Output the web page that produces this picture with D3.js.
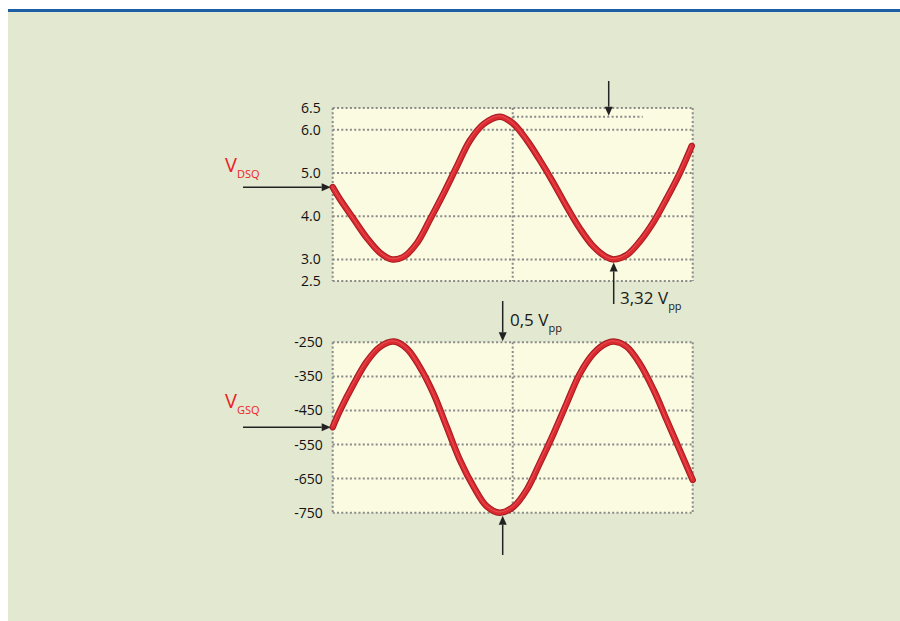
<!DOCTYPE html>
<html>
<head>
<meta charset="utf-8">
<script src="https://cdn.jsdelivr.net/npm/d3@7"></script>
<style>
  body { margin: 0; background: #fff; }
  svg { display: block; }
  .tick text { font-family: "Open Sans", sans-serif; font-size: 14px; fill: #111; }
  .grid { stroke: #8a8a8a; stroke-width: 2; stroke-dasharray: 2,2.3; fill: none; }
  .note { font-family: "Open Sans", sans-serif; fill: #1a1a1a; }
</style>
</head>
<body>
<svg id="chart" width="900" height="621"></svg>
<script>
// upper trace: drain-source voltage (V)
var topTime = [0, 0.7, 2.1, 3.4, 4.7, 5.9, 7.1, 8.4, 9.7, 11.1, 12.4, 13.7, 15.1, 16.7, 18.0, 19.4, 20.7, 22.1, 23.4, 24.7, 26.1, 27.4, 28.1, 29.4, 30.7, 32.1, 33.4, 34.7, 35.9];
var topVolts = [4.67, 4.40, 3.93, 3.50, 3.16, 3.00, 3.06, 3.37, 3.91, 4.53, 5.14, 5.74, 6.13, 6.30, 6.15, 5.76, 5.30, 4.76, 4.22, 3.72, 3.29, 3.05, 3.00, 3.10, 3.41, 3.87, 4.41, 4.99, 5.62];
var topTicks = [2.5, 3.0, 4.0, 5.0, 6.0, 6.5];

// lower trace: gate-source voltage (mV)
var botTime = [0, 0.7, 2.1, 3.4, 4.7, 6.1, 7.4, 8.7, 10.1, 11.4, 12.7, 14.1, 15.4, 16.7, 18.1, 19.4, 20.7, 22.1, 23.4, 24.7, 26.1, 27.4, 28.2, 29.4, 30.7, 32.1, 33.4, 34.7, 36];
var botVolts = [-499, -452, -372, -307, -264, -248, -268, -322, -402, -498, -594, -674, -731, -750, -732, -683, -605, -517, -429, -343, -282, -253, -248, -263, -312, -390, -478, -566, -654];
var botTicks = [-750, -650, -550, -450, -350, -250];

var timeGrid = [0, 18, 36];

var svg = d3.select("#chart");

// page background
svg.append("rect").attr("x", 8).attr("y", 11).attr("width", 892).attr("height", 610).attr("fill", "#e3e8d0");
svg.append("rect").attr("x", 8).attr("y", 9).attr("width", 892).attr("height", 3).attr("fill", "#1d5fa4");

var x = d3.scaleLinear().domain([0, 36]).range([332.7, 692.7]);
var yTop = d3.scaleLinear().domain([2.5, 6.5]).range([281, 108]);
var yBot = d3.scaleLinear().domain([-750, -250]).range([512.7, 342.3]);

function drawPanel(y, ticks, fmt, pad, times, volts)
{
    var g = svg.append("g");
    g.append("rect")
        .attr("x", x(0)).attr("y", y.range()[1])
        .attr("width", x(36) - x(0)).attr("height", y.range()[0] - y.range()[1])
        .attr("fill", "#fbfbe1");

    g.selectAll("line.h").data(ticks).enter().append("line")
        .attr("class", "grid")
        .attr("x1", x(0)).attr("x2", x(36))
        .attr("y1", function(d){ return y(d); }).attr("y2", function(d){ return y(d); });

    g.selectAll("line.v").data(timeGrid).enter().append("line")
        .attr("class", "grid")
        .attr("x1", function(d){ return x(d); }).attr("x2", function(d){ return x(d); })
        .attr("y1", y.range()[1]).attr("y2", y.range()[0]);

    var axis = g.append("g")
        .attr("transform", "translate(" + x(0) + ",0)")
        .call(d3.axisLeft(y).tickValues(ticks).tickSize(0).tickPadding(pad).tickFormat(fmt));
    axis.select(".domain").remove();

    var pts = times.map(function(t, i){ return [t, volts[i]]; });
    var line = d3.line()
        .x(function(d){ return x(d[0]); })
        .y(function(d){ return y(d[1]); })
        .curve(d3.curveCatmullRom.alpha(0.5));

    g.append("path").datum(pts).attr("d", line)
        .attr("fill", "none").attr("stroke", "#a31c22").attr("stroke-width", 6.5).attr("stroke-linecap", "round");
    g.append("path").datum(pts).attr("d", line)
        .attr("fill", "none").attr("stroke", "#dc2a30").attr("stroke-width", 4.5).attr("stroke-linecap", "round");
    g.append("path").datum(pts).attr("d", line)
        .attr("fill", "none").attr("stroke", "#f07a7a").attr("stroke-width", 1).attr("opacity", 0.5)
        .attr("transform", "translate(-0.6,-0.8)");
    return g;
}

drawPanel(yTop, topTicks, d3.format(".1f"), 12, topTime, topVolts);
drawPanel(yBot, botTicks, function(d){ return String(d); }, 10, botTime, botVolts);

// peak level marker in the upper panel
svg.append("line").attr("class", "grid")
    .attr("x1", x(18)).attr("x2", x(31))
    .attr("y1", yTop(d3.max(topVolts))).attr("y2", yTop(d3.max(topVolts)));

// arrows
function arrow(x1, y1, x2, y2)
{
    var a = Math.atan2(y2 - y1, x2 - x1), L = 9, W = 4;
    var bx = x2 - L * Math.cos(a), by = y2 - L * Math.sin(a);
    svg.append("line").attr("x1", x1).attr("y1", y1).attr("x2", bx).attr("y2", by)
        .attr("stroke", "#222").attr("stroke-width", 1.5);
    svg.append("path")
        .attr("d", "M" + x2 + "," + y2 +
                   "L" + (bx + W * Math.sin(a)) + "," + (by - W * Math.cos(a)) +
                   "L" + (bx - W * Math.sin(a)) + "," + (by + W * Math.cos(a)) + "Z")
        .attr("fill", "#222");
}

arrow(243, yTop(topVolts[0]), x(0) - 2, yTop(topVolts[0]));
arrow(243, yBot(botVolts[0]), x(0) - 2, yBot(botVolts[0]));
arrow(x(27.6), 81, x(27.6), yTop(d3.max(topVolts)) - 1);
arrow(x(28.1), 304, x(28.1), yTop(3.0) + 3);
arrow(x(17.0), 301, x(17.0), yBot(-250) - 1);
arrow(x(17.0), 555, x(17.0), yBot(-750) + 3);

// labels
function label(px, py, main, sub, color, size)
{
    var t = svg.append("text").attr("class", "note").attr("x", px).attr("y", py)
        .attr("font-size", size).attr("fill", color).style("fill", color);
    t.append("tspan").text(main);
    t.append("tspan").attr("font-size", 11).attr("dy", 6).text(sub);
}

label(225, 172, "V", "DSQ", "#ee1c24", 20);
label(225, 408, "V", "GSQ", "#ee1c24", 20);
label(620, 304, "3,32 V", "pp", "#1a1a1a", 17);
label(510, 326, "0,5 V", "pp", "#1a1a1a", 17);
</script>
</body>
</html>
